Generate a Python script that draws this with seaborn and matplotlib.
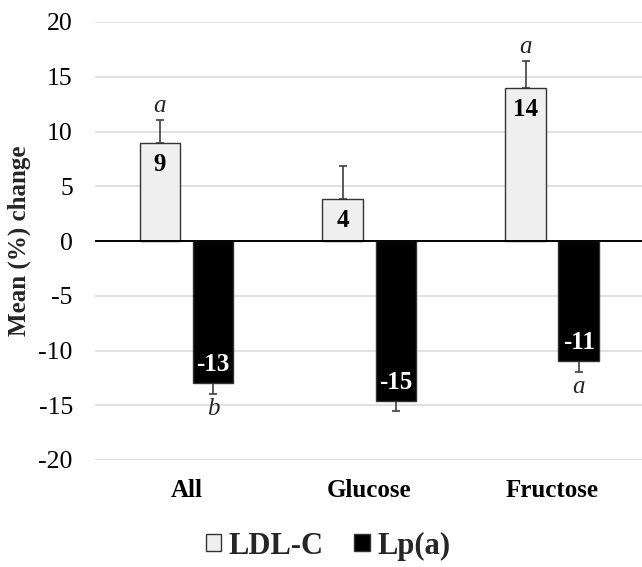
import matplotlib
matplotlib.use("Agg")
import matplotlib.pyplot as plt
import pandas as pd
import seaborn as sns

groups = ["All", "Glucose", "Fructose"]
markers = ["LDL-C", "Lp(a)"]
ldl = [8.95, 3.85, 14.0]
ldl_err = [2.1, 3.0, 2.4]
lpa = [-12.95, -14.6, -11.0]
lpa_err = [1.0, 0.9, 0.95]
ldl_sig = ["a", "", "a"]
lpa_sig = ["b", "", "a"]

data = pd.DataFrame({
    "group": groups * 2,
    "marker": [markers[0]] * 3 + [markers[1]] * 3,
    "value": ldl + lpa,
})

sns.set_theme(style="white")
plt.rcParams["font.family"] = ["Liberation Serif", "DejaVu Serif"]
plt.rcParams["axes.unicode_minus"] = False

fig = plt.figure(figsize=(6.42, 5.67), dpi=100)
ax = fig.add_axes([95 / 642, 1 - 460 / 567, 1 - 95 / 642, 438 / 567])

sns.barplot(data=data, x="group", y="value", hue="marker", order=groups,
            hue_order=markers, palette={"LDL-C": "#EFEFEF", "Lp(a)": "black"},
            width=0.58, gap=0.23, edgecolor="#333333", linewidth=1.0, ax=ax,
            zorder=3)

ax.set_ylim(-20, 20)
ax.set_yticks(range(-20, 21, 5))
ax.set_xlim(-0.5, 2.49)
ax.yaxis.grid(True, color="#D9D9D9", lw=1.1, zorder=0)
ax.set_axisbelow(True)
ax.axhline(0, color="black", lw=1.4, zorder=4)
for s in ax.spines.values():
    s.set_visible(False)
ax.tick_params(axis="both", length=0, labelsize=18.5, colors="black")
ax.tick_params(axis="y", pad=16)
ax.tick_params(axis="x", pad=14, labelsize=18)
for t in ax.get_xticklabels():
    t.set_fontweight("bold")
ax.set_xlabel("")
ax.set_ylabel("Mean (%) change", fontsize=18, fontweight="bold", labelpad=5)

series = [(ldl, ldl_err, ldl_sig, "black"), (lpa, lpa_err, lpa_sig, "white")]
for cont, (vals, errs, sigs, tcol) in zip(ax.containers, series):
    xs = [p.get_x() + p.get_width() / 2 for p in cont.patches]
    for x, v, e, s in zip(xs, vals, errs, sigs):
        if v > 0:
            ax.errorbar(x, v, yerr=[[0], [e]], fmt="none", ecolor="#404040",
                        elinewidth=1.2, capsize=3, capthick=1.2, zorder=2)
            ax.text(x, v - 2.0, f"{round(v)}", ha="center", va="center",
                    fontsize=18, fontweight="bold", color=tcol, zorder=5)
            if s:
                ax.text(x, v + e + 0.3, s, ha="center", va="bottom",
                        fontsize=18, style="italic", zorder=5)
        else:
            ax.errorbar(x, v, yerr=[[e], [0]], fmt="none", ecolor="#404040",
                        elinewidth=1.2, capsize=3, capthick=1.2, zorder=2)
            ax.text(x, v + 1.7, f"{round(v)}", ha="center", va="center",
                    fontsize=18, fontweight="bold", color=tcol, zorder=5)
            if s:
                ax.text(x, v - e - 0.4, s, ha="center", va="top",
                        fontsize=18, style="italic", zorder=5)

sns.move_legend(ax, "center", bbox_to_anchor=(0.511, 0.037),
                bbox_transform=fig.transFigure, ncol=2, frameon=False,
                title=None, prop={"size": 22, "weight": "bold"},
                handlelength=0.5, handleheight=0.5, handletextpad=0.25,
                columnspacing=1.0)

fig.savefig("out.png", dpi=100)
